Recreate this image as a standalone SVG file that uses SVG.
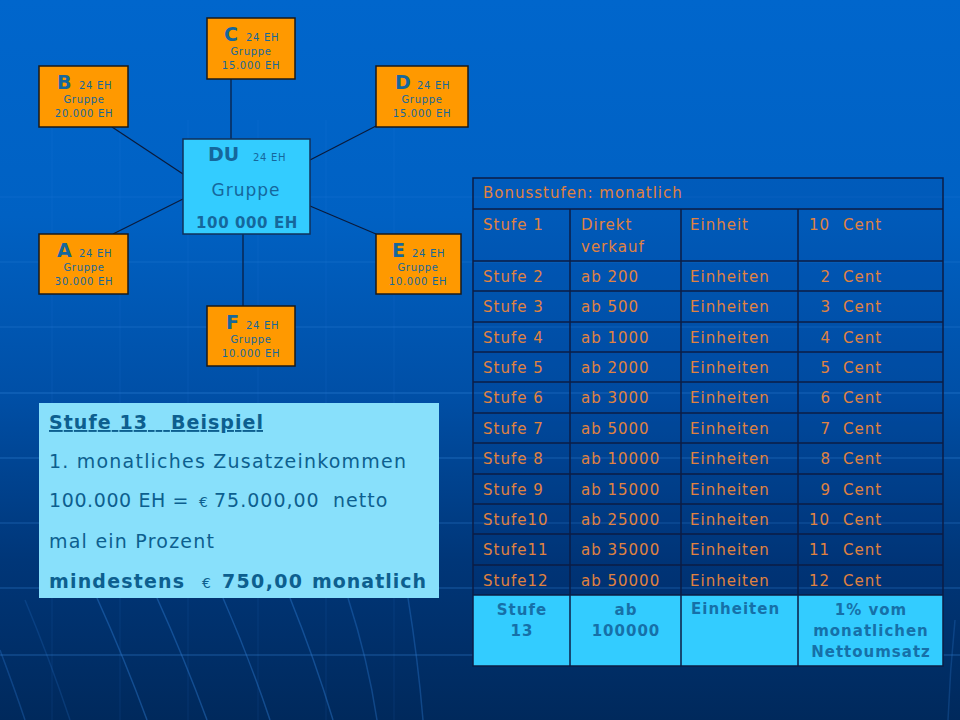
<svg xmlns="http://www.w3.org/2000/svg" width="960" height="720" viewBox="0 0 960 720">
<defs>
<linearGradient id="bg" x1="0" y1="0" x2="0" y2="1">
<stop offset="0" stop-color="#0066cc"/>
<stop offset="0.3" stop-color="#0061c3"/>
<stop offset="0.55" stop-color="#004fa6"/>
<stop offset="0.78" stop-color="#003678"/>
<stop offset="1" stop-color="#00295c"/>
</linearGradient>
<style>
.node{fill:#ff9900;stroke:#1a1a1a;stroke-width:1.5}
.du{fill:#33ccff;stroke:#10305a;stroke-width:1.5}
.conn line{stroke:#0a1a3a;stroke-width:1.2}
.big{font-family:"DejaVu Sans",Verdana,sans-serif;font-weight:bold;font-size:19px;fill:#15679c}
.sm{font-family:"DejaVu Sans",Verdana,sans-serif;font-size:10px;letter-spacing:0.7px;fill:#15679c}
.smc{font-family:"DejaVu Sans",Verdana,sans-serif;font-size:10px;letter-spacing:0.7px;fill:#15679c;text-anchor:middle}
.hl{stroke:#3d8ee6;stroke-width:1.5;fill:none}
.vl{stroke:#3d8ee6;stroke-width:1;fill:none;opacity:0.12}
.st{stroke:#2f7fd8;stroke-width:1.5;fill:none}
.cell{fill:#002a70;fill-opacity:0.12}
.grid line{stroke:#0b1c45;stroke-width:1.5}
.t{font-family:"DejaVu Sans",Verdana,sans-serif;font-size:15px;letter-spacing:1px;fill:#e0823f}
.tn{font-family:"DejaVu Sans",Verdana,sans-serif;font-size:15px;letter-spacing:1px;fill:#e0823f;text-anchor:end}
.tb{font-family:"DejaVu Sans",Verdana,sans-serif;font-size:15px;font-weight:bold;letter-spacing:1px;fill:#1670a8;text-anchor:middle}
.bx{font-family:"DejaVu Sans",Verdana,sans-serif;font-size:19px;fill:#0d5f8f}
.bxb{font-family:"DejaVu Sans",Verdana,sans-serif;font-size:19px;font-weight:bold;fill:#0d5f8f}
.eur{font-family:"DejaVu Sans",Verdana,sans-serif;font-size:14px;font-weight:normal;fill:#0d5f8f}
</style>
</defs>

<g id="background">
<rect x="0" y="0" width="960" height="720" fill="url(#bg)"/>
<line class="hl" x1="0" y1="197" x2="960" y2="197" opacity="0.12"/>
<line class="hl" x1="0" y1="262" x2="960" y2="262" opacity="0.16"/>
<line class="hl" x1="0" y1="327" x2="960" y2="327" opacity="0.2"/>
<line class="hl" x1="0" y1="393" x2="960" y2="393" opacity="0.3"/>
<line class="hl" x1="0" y1="458" x2="960" y2="458" opacity="0.3"/>
<line class="hl" x1="0" y1="523" x2="960" y2="523" opacity="0.25"/>
<line class="hl" x1="0" y1="588" x2="960" y2="588" opacity="0.28"/>
<line class="hl" x1="0" y1="655" x2="960" y2="655" opacity="0.3"/>
<line class="vl" x1="52" y1="120" x2="52" y2="720"/>
<line class="vl" x1="120" y1="120" x2="120" y2="720"/>
<line class="vl" x1="188" y1="120" x2="188" y2="720"/>
<line class="vl" x1="258" y1="120" x2="258" y2="720"/>
<line class="vl" x1="326" y1="120" x2="326" y2="720"/>
<line class="vl" x1="394" y1="120" x2="394" y2="720"/>
<path class="st" d="M97 598 Q125 660 147 720" opacity="0.4"/>
<path class="st" d="M157 598 Q185 660 207 720" opacity="0.4"/>
<path class="st" d="M223 598 Q250 660 270 720" opacity="0.4"/>
<path class="st" d="M290 598 Q315 660 333 720" opacity="0.4"/>
<path class="st" d="M348 598 Q368 660 377 720" opacity="0.35"/>
<path class="st" d="M408 598 Q418 660 423 720" opacity="0.35"/>
<path class="st" d="M0 650 Q15 690 25 720" opacity="0.3"/>
<path class="st" d="M955 620 Q950 670 948 720" opacity="0.25"/>
<path class="st" d="M25 600 Q50 660 70 720" opacity="0.2"/>
</g>

<g id="connectors" class="conn">
<line x1="231" y1="79" x2="231" y2="139"/>
<line x1="112" y1="127" x2="183" y2="174"/>
<line x1="376" y1="126" x2="310" y2="160"/>
<line x1="113" y1="234" x2="183" y2="199"/>
<line x1="310" y1="206" x2="376" y2="234"/>
<line x1="243" y1="234" x2="243" y2="306"/>
</g>

<g id="node-C">
<rect class="node" x="207" y="18" width="88" height="61"/>
<text class="big" x="224" y="41">C</text>
<text class="sm" x="246" y="41">24 EH</text>
<text class="smc" x="251" y="55">Gruppe</text>
<text class="smc" x="251" y="69">15.000 EH</text>
</g>

<g id="node-B">
<rect class="node" x="39" y="66" width="89" height="61"/>
<text class="big" x="57" y="89">B</text>
<text class="sm" x="79" y="89">24 EH</text>
<text class="smc" x="84" y="103">Gruppe</text>
<text class="smc" x="84" y="117">20.000 EH</text>
</g>

<g id="node-D">
<rect class="node" x="376" y="66" width="92" height="61"/>
<text class="big" x="395" y="89">D</text>
<text class="sm" x="417" y="89">24 EH</text>
<text class="smc" x="422" y="103">Gruppe</text>
<text class="smc" x="422" y="117">15.000 EH</text>
</g>

<g id="node-DU">
<rect class="du" x="183" y="139" width="127" height="95"/>
<text class="big" x="208" y="161">DU</text>
<text class="sm" x="253" y="161">24 EH</text>
<text x="246" y="196" text-anchor="middle" font-family="DejaVu Sans, Verdana, sans-serif" font-size="17" letter-spacing="1" fill="#15679c">Gruppe</text>
<text x="247" y="228" text-anchor="middle" font-family="DejaVu Sans, Verdana, sans-serif" font-size="15" font-weight="bold" letter-spacing="0.6" fill="#15679c">100 000 EH</text>
</g>

<g id="node-A">
<rect class="node" x="39" y="234" width="89" height="60"/>
<text class="big" x="57" y="257">A</text>
<text class="sm" x="79" y="257">24 EH</text>
<text class="smc" x="84" y="271">Gruppe</text>
<text class="smc" x="84" y="285">30.000 EH</text>
</g>

<g id="node-E">
<rect class="node" x="376" y="234" width="85" height="60"/>
<text class="big" x="392" y="257">E</text>
<text class="sm" x="412" y="257">24 EH</text>
<text class="smc" x="418" y="271">Gruppe</text>
<text class="smc" x="418" y="285">10.000 EH</text>
</g>

<g id="node-F">
<rect class="node" x="207" y="306" width="88" height="60"/>
<text class="big" x="226" y="329">F</text>
<text class="sm" x="246" y="329">24 EH</text>
<text class="smc" x="251" y="343">Gruppe</text>
<text class="smc" x="251" y="357">10.000 EH</text>
</g>

<g id="table">
<rect class="cell" x="473" y="178" width="470" height="417"/>
<rect x="473" y="595" width="470" height="71" fill="#33ccff"/>
<g class="grid">
<rect x="473" y="178" width="470" height="488" fill="none" stroke="#0b1c45" stroke-width="1.5"/>
<line x1="473" y1="209" x2="943" y2="209"/>
<line x1="473" y1="261" x2="943" y2="261"/>
<line x1="473" y1="291" x2="943" y2="291"/>
<line x1="473" y1="322" x2="943" y2="322"/>
<line x1="473" y1="352" x2="943" y2="352"/>
<line x1="473" y1="382" x2="943" y2="382"/>
<line x1="473" y1="413" x2="943" y2="413"/>
<line x1="473" y1="443" x2="943" y2="443"/>
<line x1="473" y1="474" x2="943" y2="474"/>
<line x1="473" y1="504" x2="943" y2="504"/>
<line x1="473" y1="534" x2="943" y2="534"/>
<line x1="473" y1="565" x2="943" y2="565"/>
<line x1="473" y1="595" x2="943" y2="595"/>
<line x1="570" y1="209" x2="570" y2="666"/>
<line x1="681" y1="209" x2="681" y2="666"/>
<line x1="798" y1="209" x2="798" y2="666"/>
</g>
<text class="t" x="483" y="198">Bonusstufen: monatlich</text>

<text class="t" x="483" y="230">Stufe 1</text>
<text class="t" x="581" y="230">Direkt</text>
<text class="t" x="581" y="252">verkauf</text>
<text class="t" x="690" y="230">Einheit</text>
<text class="t" x="809" y="230">10</text><text class="t" x="843" y="230">Cent</text>

<text class="t" x="483" y="282">Stufe 2</text><text class="t" x="581" y="282">ab 200</text><text class="t" x="690" y="282">Einheiten</text><text class="tn" x="831" y="282">2</text><text class="t" x="843" y="282">Cent</text>
<text class="t" x="483" y="312">Stufe 3</text><text class="t" x="581" y="312">ab 500</text><text class="t" x="690" y="312">Einheiten</text><text class="tn" x="831" y="312">3</text><text class="t" x="843" y="312">Cent</text>
<text class="t" x="483" y="343">Stufe 4</text><text class="t" x="581" y="343">ab 1000</text><text class="t" x="690" y="343">Einheiten</text><text class="tn" x="831" y="343">4</text><text class="t" x="843" y="343">Cent</text>
<text class="t" x="483" y="373">Stufe 5</text><text class="t" x="581" y="373">ab 2000</text><text class="t" x="690" y="373">Einheiten</text><text class="tn" x="831" y="373">5</text><text class="t" x="843" y="373">Cent</text>
<text class="t" x="483" y="403">Stufe 6</text><text class="t" x="581" y="403">ab 3000</text><text class="t" x="690" y="403">Einheiten</text><text class="tn" x="831" y="403">6</text><text class="t" x="843" y="403">Cent</text>
<text class="t" x="483" y="434">Stufe 7</text><text class="t" x="581" y="434">ab 5000</text><text class="t" x="690" y="434">Einheiten</text><text class="tn" x="831" y="434">7</text><text class="t" x="843" y="434">Cent</text>
<text class="t" x="483" y="464">Stufe 8</text><text class="t" x="581" y="464">ab 10000</text><text class="t" x="690" y="464">Einheiten</text><text class="tn" x="831" y="464">8</text><text class="t" x="843" y="464">Cent</text>
<text class="t" x="483" y="495">Stufe 9</text><text class="t" x="581" y="495">ab 15000</text><text class="t" x="690" y="495">Einheiten</text><text class="tn" x="831" y="495">9</text><text class="t" x="843" y="495">Cent</text>
<text class="t" x="483" y="525">Stufe10</text><text class="t" x="581" y="525">ab 25000</text><text class="t" x="690" y="525">Einheiten</text><text class="t" x="809" y="525">10</text><text class="t" x="843" y="525">Cent</text>
<text class="t" x="483" y="555">Stufe11</text><text class="t" x="581" y="555">ab 35000</text><text class="t" x="690" y="555">Einheiten</text><text class="t" x="809" y="555">11</text><text class="t" x="843" y="555">Cent</text>
<text class="t" x="483" y="586">Stufe12</text><text class="t" x="581" y="586">ab 50000</text><text class="t" x="690" y="586">Einheiten</text><text class="t" x="809" y="586">12</text><text class="t" x="843" y="586">Cent</text>

<text class="tb" x="522" y="615">Stufe</text>
<text class="tb" x="522" y="636">13</text>
<text class="tb" x="626" y="615">ab</text>
<text class="tb" x="626" y="636">100000</text>
<text class="tb" x="691" y="614" style="text-anchor:start">Einheiten</text>
<text class="tb" x="871" y="615">1% vom</text>
<text class="tb" x="871" y="636">monatlichen</text>
<text class="tb" x="871" y="657">Nettoumsatz</text>
</g>

<g id="example-box">
<rect x="39" y="403" width="400" height="195" fill="#88e0fb"/>
<text class="bxb" x="49" y="429" textLength="214" text-decoration="underline" xml:space="preserve">Stufe 13   Beispiel</text>
<text class="bx" x="49" y="468" textLength="357">1. monatliches Zusatzeinkommen</text>
<text class="bx" y="507"><tspan x="49" letter-spacing="0.6">100.000 EH =</tspan><tspan class="eur" x="199">€</tspan><tspan x="214" letter-spacing="1">75.000,00</tspan><tspan x="333" letter-spacing="1">netto</tspan></text>
<text class="bx" x="49" y="548" textLength="165">mal ein Prozent</text>
<text class="bxb" y="588"><tspan x="49" textLength="135">mindestens</tspan><tspan class="eur" x="202">€</tspan><tspan x="222" textLength="80">750,00</tspan><tspan x="312" textLength="114">monatlich</tspan></text>
</g>
</svg>
